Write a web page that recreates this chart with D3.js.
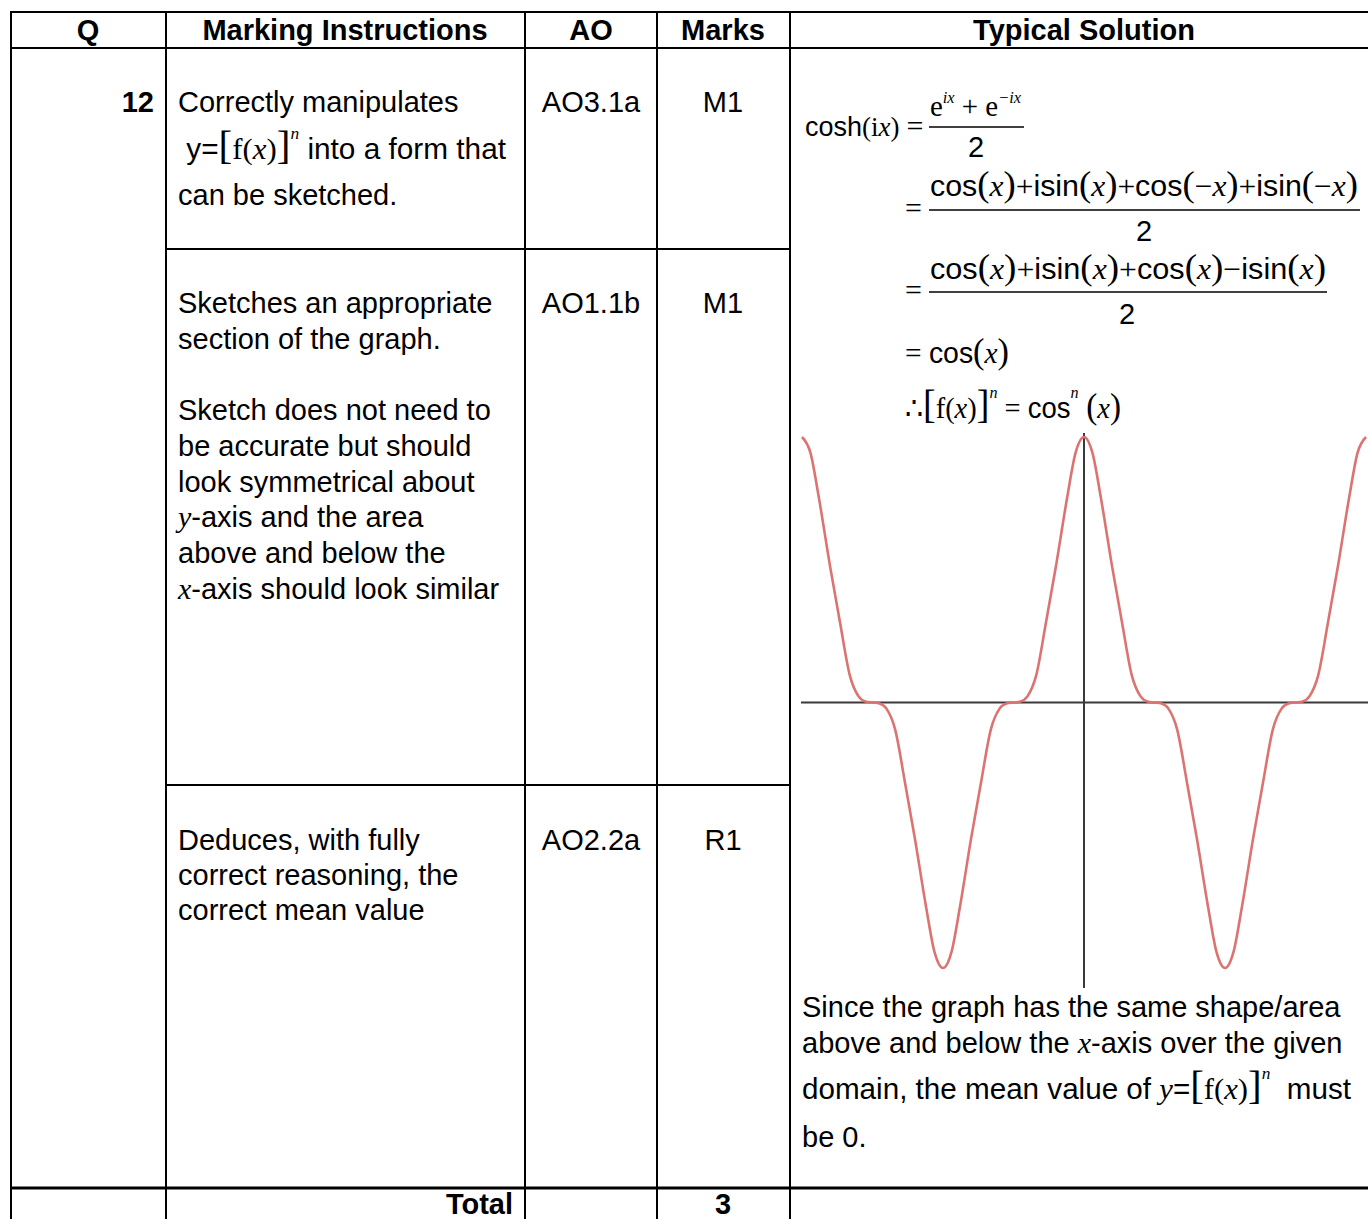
<!DOCTYPE html>
<html>
<head>
<meta charset="utf-8">
<script src="https://cdn.jsdelivr.net/npm/d3@7"></script>
<style>
  body { margin: 0; background: #fff; }
  text { fill: #000; }
</style>
</head>
<body>
<div id="chart"></div>
<script>
// ---- table content ----
const headers = ["Q", "Marking Instructions", "AO", "Marks", "Typical Solution"];
const questionNo = "12";
const aoCodes = ["AO3.1a", "AO1.1b", "AO2.2a"];
const marks = ["M1", "M1", "R1"];
const totalLabel = "Total";
const totalMarks = "3";

// each line is a list of [text, style] runs
const instructions = [
  [
    [["Correctly manipulates", "s"]],
    [[" y=", "s"], ["[", "big"], ["f(", "r"], ["x", "i"], [")", "r"], ["]", "big"], ["n", "sup"], [" into a form that", "s"]],
    [["can be sketched.", "s"]]
  ],
  [
    [["Sketches an appropriate", "s"]],
    [["section of the graph.", "s"]],
    [],
    [["Sketch does not need to", "s"]],
    [["be accurate but should", "s"]],
    [["look symmetrical about", "s"]],
    [["y", "i"], ["-axis and the area", "s"]],
    [["above and below the", "s"]],
    [["x", "i"], ["-axis should look similar", "s"]]
  ],
  [
    [["Deduces, with fully", "s"]],
    [["correct reasoning, the", "s"]],
    [["correct mean value", "s"]]
  ]
];

const solutionText = [
  [["Since the graph has the same shape/area", "s"]],
  [["above and below the ", "s"], ["x", "i"], ["-axis over the given", "s"]],
  [["domain, the mean value of ", "s"], ["y", "i"], ["=", "s"], ["[", "big"], ["f(", "r"], ["x", "i"], [")", "r"], ["]", "big"], ["n", "sup"], ["  must", "s"]],
  [["be 0.", "s"]]
];

// sketch of y = cos^n(x), x in multiples of pi
const curveX = [-2, -1.94, -1.88, -1.8, -1.73, -1.66, -1.6, -1.55, -1.5, -1.45, -1.4, -1.34, -1.27, -1.2, -1.12, -1.06, -1,
  -0.94, -0.88, -0.8, -0.73, -0.66, -0.6, -0.55, -0.5, -0.45, -0.4, -0.34, -0.27, -0.2, -0.12, -0.06, 0,
  0.06, 0.12, 0.2, 0.27, 0.34, 0.4, 0.45, 0.5, 0.55, 0.6, 0.66, 0.73, 0.8, 0.88, 0.94, 1,
  1.06, 1.12, 1.2, 1.27, 1.34, 1.4, 1.45, 1.5, 1.55, 1.6, 1.66, 1.73, 1.8, 1.88, 1.94, 2];
const curveY = [1, 0.94, 0.77, 0.51, 0.3, 0.1, 0.024, 0.004, 0, -0.004, -0.024, -0.1, -0.3, -0.51, -0.77, -0.94, -1,
  -0.94, -0.77, -0.51, -0.3, -0.1, -0.024, -0.004, 0, 0.004, 0.024, 0.1, 0.3, 0.51, 0.77, 0.94, 1,
  0.94, 0.77, 0.51, 0.3, 0.1, 0.024, 0.004, 0, -0.004, -0.024, -0.1, -0.3, -0.51, -0.77, -0.94, -1,
  -0.94, -0.77, -0.51, -0.3, -0.1, -0.024, -0.004, 0, 0.004, 0.024, 0.1, 0.3, 0.51, 0.77, 0.94, 1];

// ---- drawing ----
const W = 1368, H = 1219;
const SANS = "'Liberation Sans', Arial, sans-serif";
const SERIF = "'Liberation Serif', 'Times New Roman', serif";
const FS = 29;

const svg = d3.select('#chart').append('svg')
  .attr('width', W).attr('height', H)
  .style('display', 'block');

const styles = {
  s:   { family: SANS, size: FS },
  s2:  { family: SANS, size: 27 },
  b:   { family: SANS, size: FS, weight: 'bold' },
  r:   { family: SERIF, size: FS + 1 },
  r2:  { family: SERIF, size: 27 },
  i:   { family: SERIF, size: FS + 1, italic: true },
  i2:  { family: SERIF, size: 27, italic: true },
  p:   { family: SERIF, size: 35 },
  big: { family: SERIF, size: 40 },
  sup: { family: SERIF, size: 17, italic: true, shift: -20 },
  supi:{ family: SERIF, size: 17, italic: true, shift: -13 }
};

// write a line of mixed runs as one text element
function rich(parent, x, y, runs, anchor, fitWidth) {
  const t = parent.append('text')
    .attr('x', x).attr('y', y)
    .attr('text-anchor', anchor || 'start')
    .style('white-space', 'pre');
  let shift = 0;
  runs.forEach(([txt, k]) => {
    const st = styles[k];
    const target = st.shift || 0;
    t.append('tspan')
      .attr('dy', target - shift)
      .style('font-family', st.family)
      .style('font-size', st.size + 'px')
      .style('font-weight', st.weight || 'normal')
      .style('font-style', st.italic ? 'italic' : 'normal')
      .text(txt);
    shift = target;
  });
  if (fitWidth) {
    t.attr('textLength', fitWidth).attr('lengthAdjust', 'spacingAndGlyphs');
  }
  return t;
}

// table frame
const colX = [11, 166, 525, 657, 790];
const lines = svg.append('g').attr('stroke', '#000');
lines.append('line').attr('x1', 10).attr('x2', W).attr('y1', 12).attr('y2', 12).attr('stroke-width', 2);
lines.append('line').attr('x1', 10).attr('x2', W).attr('y1', 48).attr('y2', 48).attr('stroke-width', 2);
lines.append('line').attr('x1', 166).attr('x2', 790).attr('y1', 249).attr('y2', 249).attr('stroke-width', 2);
lines.append('line').attr('x1', 166).attr('x2', 790).attr('y1', 785).attr('y2', 785).attr('stroke-width', 2);
lines.append('line').attr('x1', 10).attr('x2', W).attr('y1', 1188).attr('y2', 1188).attr('stroke-width', 3);
colX.forEach(x => {
  lines.append('line').attr('x1', x).attr('x2', x).attr('y1', 11).attr('y2', H).attr('stroke-width', 2);
});

// header
const headCx = [88, 345, 591, 723, 1084];
headers.forEach((h, i) => rich(svg, headCx[i], 40, [[h, 'b']], 'middle'));

// question number
rich(svg, 154, 112, [[questionNo, 'b']], 'end');

// rows
const rowTop = [112, 313, 850];
const lineStep = [46.5, 35.7, 35];
instructions.forEach((rows, r) => {
  rows.forEach((runs, j) => {
    if (runs.length) rich(svg, 178, rowTop[r] + j * lineStep[r], runs, 'start', r === 0 && j === 1 ? 328 : null);
  });
  rich(svg, 591, rowTop[r], [[aoCodes[r], 's']], 'middle');
  rich(svg, 723, rowTop[r], [[marks[r], 's']], 'middle');
});

// total row
rich(svg, 513, 1214, [[totalLabel, 'b']], 'end');
rich(svg, 723, 1214, [[totalMarks, 'b']], 'middle');

// ---- typical solution: working ----
const eq = svg.append('g');
function bar(x1, x2, y) {
  eq.append('line').attr('x1', x1).attr('x2', x2).attr('y1', y).attr('y2', y)
    .attr('stroke', '#000').attr('stroke-width', 1.3);
}
rich(eq, 805, 136, [["cosh", "s2"], ["(", "r2"], ["i", "r2"], ["x", "i2"], [")", "r2"]]);
rich(eq, 915, 136, [["=", "r"]], 'middle');
rich(eq, 930, 116, [["e", "r"], ["ix", "supi"], [" + ", "r"], ["e", "r"], ["−ix", "supi"]], 'start', 91);
bar(929, 1024, 127);
rich(eq, 976, 157, [["2", "s"]], 'middle');

const num2 = [["cos", "s"], ["(", "p"], ["x", "i"], [")", "p"], ["+", "r"], ["isin", "s"], ["(", "p"], ["x", "i"], [")", "p"], ["+", "r"],
  ["cos", "s"], ["(", "p"], ["−", "r"], ["x", "i"], [")", "p"], ["+", "r"], ["isin", "s"], ["(", "p"], ["−", "r"], ["x", "i"], [")", "p"]];
rich(eq, 905, 218, [["=", "r"]]);
rich(eq, 930, 196, num2, 'start', 428);
bar(929, 1360, 210);
rich(eq, 1144, 241, [["2", "s"]], 'middle');

const num3 = [["cos", "s"], ["(", "p"], ["x", "i"], [")", "p"], ["+", "r"], ["isin", "s"], ["(", "p"], ["x", "i"], [")", "p"], ["+", "r"],
  ["cos", "s"], ["(", "p"], ["x", "i"], [")", "p"], ["−", "r"], ["isin", "s"], ["(", "p"], ["x", "i"], [")", "p"]];
rich(eq, 905, 300, [["=", "r"]]);
rich(eq, 930, 279, num3, 'start', 396);
bar(929, 1327, 292);
rich(eq, 1127, 324, [["2", "s"]], 'middle');

rich(eq, 905, 363, [["= ", "r"], ["cos", "s"], ["(", "p"], ["x", "i"], [")", "p"]], 'start', 104);
rich(eq, 905, 418, [["∴", "r"], ["[", "big"], ["f(", "r"], ["x", "i"], [")", "r"], ["]", "big"], ["n", "sup"], [" = ", "r"],
  ["cos", "s"], ["n", "sup"], [" ", "s"], ["(", "p"], ["x", "i"], [")", "p"]], 'start', 216);

// ---- sketch ----
const x = d3.scaleLinear().domain([-2, 2]).range([802, 1366]);
const y = d3.scaleLinear().domain([-1, 1]).range([968, 437]);
const plot = svg.append('g');
plot.append('line').attr('x1', 801).attr('x2', W).attr('y1', y(0)).attr('y2', y(0))
  .attr('stroke', '#3a3a3a').attr('stroke-width', 2);
plot.append('line').attr('x1', x(0)).attr('x2', x(0)).attr('y1', 433).attr('y2', 988)
  .attr('stroke', '#3a3a3a').attr('stroke-width', 2);
const pts = curveX.map((v, i) => [v, curveY[i]]);
plot.append('path')
  .datum(pts)
  .attr('fill', 'none')
  .attr('stroke', '#db7471')
  .attr('stroke-width', 2.6)
  .attr('d', d3.line().x(d => x(d[0])).y(d => y(d[1])).curve(d3.curveMonotoneX));

// ---- typical solution: conclusion ----
const solBase = [1017, 1053, 1099, 1147];
const solFit = [null, null, 549, null];
solutionText.forEach((runs, j) => rich(svg, 802, solBase[j], runs, 'start', solFit[j]));
</script>
</body>
</html>
